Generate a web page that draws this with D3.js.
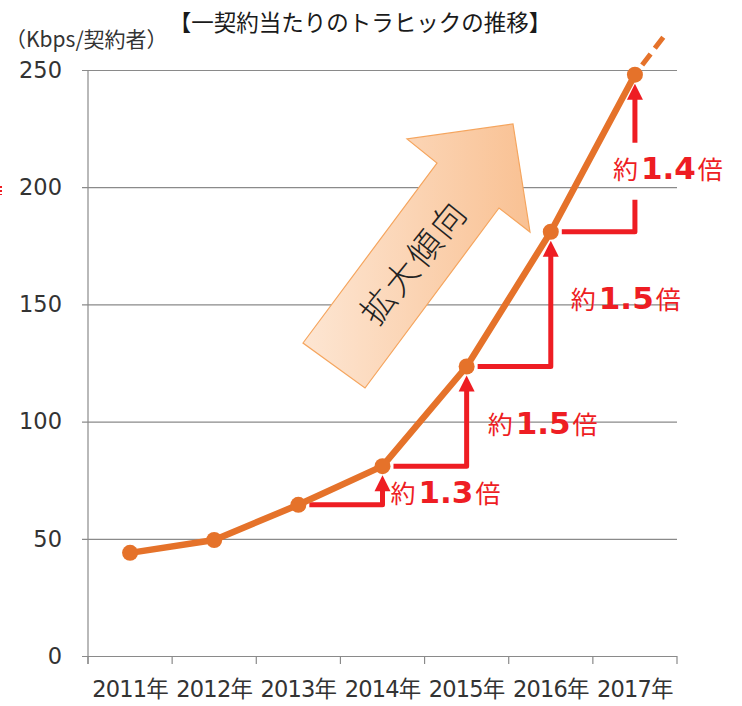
<!DOCTYPE html>
<html>
<head>
<meta charset="utf-8">
<script src="https://cdn.jsdelivr.net/npm/d3@7"></script>
<style>
  body { margin: 0; background: #fff; }
  text { font-family: "DejaVu Sans", "Noto Sans CJK JP", sans-serif; }
</style>
</head>
<body>
<svg id="canvas" width="742" height="706"></svg>
<script>
// chart data
let years = ["2011年", "2012年", "2013年", "2014年", "2015年", "2016年", "2017年"];
let traffic = [44, 49.5, 64.5, 81, 123.5, 181, 248];
let yTicks = [0, 50, 100, 150, 200, 250];
// growth steps: from year index -> next year
let stepFrom = [2, 3, 4, 5];
let stepLabels = ["1.3", "1.5", "1.5", "1.4"];
let trendEndValue = 267; // end of dashed projection past 2017

let canvas = d3.select("#canvas");

let plotLeft = 88, plotRight = 677, plotTop = 70, plotBottom = 656;
let orange = "#e5722a";
let red = "#ee1d23";
let grid = "#8a8a8a";

let x = d3.scaleBand().domain(years).range([plotLeft, plotRight]).padding(0);
let y = d3.scaleLinear().domain([0, 250]).range([plotBottom, plotTop]);
let cx = (i) => x(years[i]) + x.bandwidth() / 2;

canvas.append("rect").attr("width", 742).attr("height", 706).attr("fill", "#fff");

// gridlines + y labels (tick runs a bit left of the axis)
let yAxis = canvas
  .append("g")
  .attr("transform", "translate(" + (plotLeft - 6) + ",0)")
  .call(d3.axisLeft(y).tickValues(yTicks).tickSize(-(plotRight - plotLeft + 6)).tickPadding(20));
yAxis.select(".domain").remove();
yAxis.selectAll("line").attr("stroke", grid).attr("stroke-width", 1.2);
yAxis
  .selectAll("text")
  .attr("fill", "#333")
  .style("font-size", "22.5px")
  .style("font-family", "'DejaVu Sans', sans-serif");

// vertical axis line
canvas
  .append("line")
  .attr("x1", plotLeft).attr("x2", plotLeft)
  .attr("y1", y(250)).attr("y2", plotBottom + 8)
  .attr("stroke", grid).attr("stroke-width", 1.2);

// x ticks on band edges
let edges = years.map((d) => x(d)).concat([plotRight]);
canvas
  .selectAll(".xtick")
  .data(edges)
  .enter()
  .append("line")
  .attr("class", "xtick")
  .attr("x1", (d) => d).attr("x2", (d) => d)
  .attr("y1", plotBottom).attr("y2", plotBottom + 8)
  .attr("stroke", grid).attr("stroke-width", 1.2);

// x labels
let xAxis = canvas
  .append("g")
  .attr("transform", "translate(0," + plotBottom + ")")
  .call(d3.axisBottom(x).tickSize(0).tickPadding(25));
xAxis.select(".domain").remove();
xAxis
  .selectAll("text")
  .attr("fill", "#333")
  .style("font-size", "22.5px")
  .style("font-family", "'DejaVu Sans', 'Noto Sans CJK JP', sans-serif")
  .style("letter-spacing", "-0.8px");

// title + unit
canvas
  .append("text")
  .attr("x", 360).attr("y", 31)
  .attr("text-anchor", "middle")
  .attr("fill", "#1a1a1a")
  .style("font-family", "'Noto Sans CJK JP', sans-serif")
  .style("font-size", "22.5px")
  .text("【一契約当たりのトラヒックの推移】");

canvas
  .append("text")
  .attr("x", 5).attr("y", 47)
  .attr("fill", "#333")
  .style("font-family", "'Noto Sans CJK JP', sans-serif")
  .style("font-size", "21px")
  .text("（Kbps/契約者）");

// small red stub at the left edge
canvas
  .append("line")
  .attr("x1", 1).attr("x2", 1).attr("y1", 186).attr("y2", 195)
  .attr("stroke", red).attr("stroke-width", 2).attr("stroke-dasharray", "2,2");

// big "拡大傾向" arrow
let defs = canvas.append("defs");
let grad = defs
  .append("linearGradient")
  .attr("id", "arrowGrad")
  .attr("x1", "0%").attr("y1", "0%").attr("x2", "100%").attr("y2", "0%");
grad.append("stop").attr("offset", "0%").attr("stop-color", "#fde6d3");
grad.append("stop").attr("offset", "100%").attr("stop-color", "#f9c193");

let arrowPts = [
  [513, 124], [530, 232], [499, 208], [365, 388],
  [303, 343], [437, 163], [407, 139]
];
canvas
  .append("path")
  .attr("d", d3.line()(arrowPts) + "Z")
  .attr("fill", "url(#arrowGrad)")
  .attr("stroke", "#f5a55e")
  .attr("stroke-width", 1.2);

canvas
  .append("text")
  .attr("transform", "translate(414,262) rotate(-51)")
  .attr("text-anchor", "middle")
  .attr("dy", "0.36em")
  .attr("fill", "#222")
  .style("font-family", "'Noto Sans CJK JP', sans-serif")
  .style("font-size", "34px")
  .style("font-weight", "300")
  .style("letter-spacing", "3px")
  .text("拡大傾向");

// red growth steps
let headLen = 16, headHalf = 8, r = 8;
stepFrom.forEach((i, k) => {
  let x0 = cx(i), y0 = y(traffic[i]);
  let x1 = cx(i + 1), y1 = y(traffic[i + 1]);
  let tipY = y1 + r + 1;
  let g = canvas.append("g");
  if (k === 3) {
    // line broken around the label
    g.append("path")
      .attr("d", "M" + (x0 + r + 3) + "," + y0 + "H" + x1 + "V" + (y0 - 32))
      .attr("fill", "none").attr("stroke", red).attr("stroke-width", 5)
      .attr("stroke-linejoin", "round");
    g.append("line")
      .attr("x1", x1).attr("x2", x1)
      .attr("y1", y0 - 89).attr("y2", tipY + headLen - 2)
      .attr("stroke", red).attr("stroke-width", 5);
  } else {
    g.append("path")
      .attr("d", "M" + (x0 + r + 3) + "," + y0 + "H" + x1 + "V" + (tipY + headLen - 2))
      .attr("fill", "none").attr("stroke", red).attr("stroke-width", 5)
      .attr("stroke-linejoin", "round");
  }
  g.append("path")
    .attr("d", "M" + x1 + "," + tipY + "L" + (x1 + headHalf) + "," + (tipY + headLen) +
      "L" + (x1 - headHalf) + "," + (tipY + headLen) + "Z")
    .attr("fill", red);
});

// growth labels
let labelPos = [
  { dx: 8, dy: 0.84 },   // dx from vertical line, dy fraction between points
  { dx: 21, dy: 0.62 },
  { dx: 20, dy: 0.53 },
  { dx: -22, dy: 0.63 }
];
stepFrom.forEach((i, k) => {
  let xv = cx(i + 1);
  let ya = y(traffic[i]), yb = y(traffic[i + 1]);
  let ly = yb + (ya - yb) * labelPos[k].dy;
  if (k === 0) ly = ya - 8;
  let t = canvas
    .append("text")
    .attr("x", xv + labelPos[k].dx)
    .attr("y", ly)
    .attr("dy", "0.36em")
    .attr("fill", red);
  t.append("tspan").style("font-family", "'Noto Sans CJK JP', sans-serif").style("font-size", "25px").text("約");
  t.append("tspan").style("font-family", "'DejaVu Sans', sans-serif").style("font-weight", "bold")
    .style("font-size", "31px").attr("dx", 3).text(stepLabels[k]);
  t.append("tspan").style("font-family", "'Noto Sans CJK JP', sans-serif").style("font-size", "25px")
    .attr("dx", 2).text("倍");
});

// dashed projection past 2017
let last = traffic.length - 1;
let endX = cx(last) + x.bandwidth() * 0.4;
canvas
  .append("line")
  .attr("x1", cx(last)).attr("y1", y(traffic[last]))
  .attr("x2", endX).attr("y2", y(trendEndValue))
  .attr("stroke", orange).attr("stroke-width", 5)
  .attr("stroke-dasharray", "0,12,14,7,14,7");

// traffic line
let line = d3
  .line()
  .x((d, i) => cx(i))
  .y((d) => y(d));
canvas
  .append("path")
  .datum(traffic)
  .attr("d", line)
  .attr("fill", "none")
  .attr("stroke", orange)
  .attr("stroke-width", 6.5)
  .attr("stroke-linejoin", "round");

canvas
  .selectAll(".dot")
  .data(traffic)
  .enter()
  .append("circle")
  .attr("class", "dot")
  .attr("cx", (d, i) => cx(i))
  .attr("cy", (d) => y(d))
  .attr("r", r)
  .attr("fill", orange);
</script>
</body>
</html>
